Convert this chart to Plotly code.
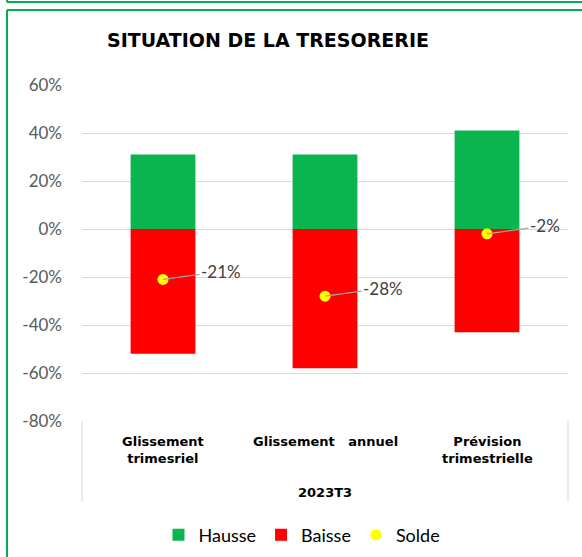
import plotly.graph_objects as go

categories = ["Glissement trimesriel", "Glissement   annuel", "Prévision trimestrielle"]
category_labels = ["Glissement<br>trimesriel", "Glissement   annuel", "Prévision<br>trimestrielle"]
group_label = "2023T3"
hausse = [0.31, 0.31, 0.41]
baisse = [-0.52, -0.58, -0.43]
solde = [-0.21, -0.28, -0.02]
y_ticks = [0.6, 0.4, 0.2, 0.0, -0.2, -0.4, -0.6, -0.8]
y_tick_labels = ["60%", "40%", "20%", "0%", "-20%", "-40%", "-60%", "-80%"]

W, H = 582, 557
L, R, T, B = 82, 14, 85, 136
PW, PH = W - L - R, H - T - B

def px(x):
    return (x - L) / PW

def py(y):
    return (H - B - y) / PH

GREEN_BORDER = "#00B050"
fig = go.Figure()
fig.add_trace(go.Bar(x=categories, y=hausse, name="Hausse", marker_color="#0AB550",
                     width=0.4, marker_line_width=0))
fig.add_trace(go.Bar(x=categories, y=baisse, name="Baisse", marker_color="#FF0000",
                     width=0.4, marker_line_width=0))
fig.add_trace(go.Scatter(x=categories, y=solde, name="Solde", mode="markers",
                         marker=dict(color="#FFFF00", size=11)))

font_main = "Lato, Calibri, Arial, sans-serif"
font_heavy = "DejaVu Sans, Arial Black, sans-serif"
for c, v in zip(categories, solde):
    fig.add_annotation(x=c, y=v, xref="x", yref="y", text=f"{round(v*100):d}%",
                       showarrow=True, arrowhead=0, arrowwidth=1.2, arrowcolor="#A6A6A6",
                       ax=58, ay=-8, standoff=0,
                       font=dict(family=font_main, size=17, color="#404040"))

for c, lab in zip(categories, category_labels):
    fig.add_annotation(x=c, y=py(432), xref="x", yref="paper", text=f"<b>{lab}</b>", showarrow=False,
                       yanchor="top", font=dict(family=font_heavy, size=13, color="#000000"))
fig.add_annotation(x=0.5, y=py(493), xref="paper", yref="paper", text=f"<b>{group_label}</b>", showarrow=False,
                   yanchor="middle", font=dict(family=font_heavy, size=13, color="#000000"))

shapes = []
for xx in (0, 1):
    shapes.append(dict(type="line", xref="paper", yref="paper", x0=xx, x1=xx, y0=0, y1=py(502),
                       line=dict(color="#D9D9D9", width=1)))
shapes.append(dict(type="line", xref="paper", yref="paper", x0=px(7), x1=px(7), y0=py(10), y1=py(560),
                   line=dict(color=GREEN_BORDER, width=2)))
shapes.append(dict(type="line", xref="paper", yref="paper", x0=px(7), x1=px(590), y0=py(10), y1=py(10),
                   line=dict(color=GREEN_BORDER, width=2)))
shapes.append(dict(type="line", xref="paper", yref="paper", x0=px(7), x1=px(590), y0=py(2), y1=py(2),
                   line=dict(color=GREEN_BORDER, width=2)))
shapes.append(dict(type="line", xref="paper", yref="paper", x0=px(7), x1=px(7), y0=py(-5), y1=py(2),
                   line=dict(color=GREEN_BORDER, width=2)))

fig.update_layout(
    width=W, height=H,
    margin=dict(l=L, r=R, t=T, b=B, autoexpand=False),
    paper_bgcolor="white", plot_bgcolor="white",
    barmode="relative", bargap=0.6,
    title=dict(text="<b>SITUATION DE LA TRESORERIE</b>", x=268 / W, xanchor="center",
               y=1 - 40 / H, yanchor="middle",
               font=dict(family=font_heavy, size=19, color="#000000")),
    xaxis=dict(showticklabels=False, showgrid=False, zeroline=False, showline=False,
               range=[-0.5, 2.5]),
    yaxis=dict(range=[-0.8, 0.6], tickvals=y_ticks, ticktext=y_tick_labels, showgrid=True,
               gridcolor="#D9D9D9", gridwidth=1, zeroline=False, showline=False,
               ticks="", ticklabelstandoff=19,
               tickfont=dict(family=font_main, size=17, color="#595959")),
    legend=dict(orientation="h", x=px(302), xanchor="center", y=py(535), yanchor="middle",
                font=dict(family=font_main, size=18, color="#000000"),
                itemwidth=30, tracegroupgap=0),
    shapes=shapes,
    showlegend=True,
)

fig.write_html("out.html", config={"displayModeBar": False},
               post_script="document.body.style.margin='0';document.body.style.overflow='hidden';")
